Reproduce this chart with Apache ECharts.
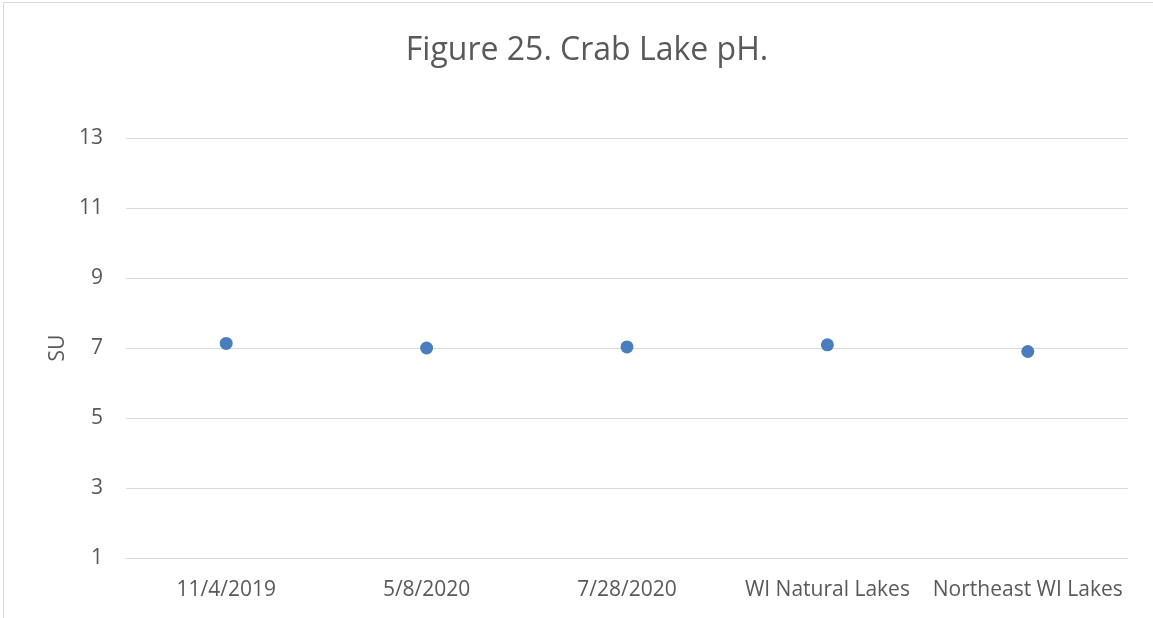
<!DOCTYPE html>
<html>
<head>
<meta charset="utf-8">
<script src="https://cdn.jsdelivr.net/npm/echarts@6/dist/echarts.min.js"></script>
<style>
  html, body { margin: 0; padding: 0; background: #fff; }
  #frame { position: absolute; left: 3px; top: 2px; width: 1160px; height: 630px; border: 1px solid #d9d9d9; box-sizing: border-box; }
  #chart { position: absolute; left: 0; top: 0; width: 1153px; height: 618px; }
</style>
</head>
<body>
<div id="frame"></div>
<div id="chart"></div>
<script>
// Sampling dates and regional reference values
const categories = ['11/4/2019', '5/8/2020', '7/28/2020', 'WI Natural Lakes', 'Northeast WI Lakes'];
const phValues = [7.13, 7.0, 7.03, 7.09, 6.9];
const yTicks = { min: 1, max: 13, interval: 2 };

const FONT = '"Open Sans", sans-serif';
const TEXT = '#595959';

const chart = echarts.init(document.getElementById('chart'), null, { renderer: 'canvas' });
chart.setOption({
  animation: false,
  backgroundColor: 'transparent',
  title: {
    text: 'Figure 25. Crab Lake pH.',
    left: 582,
    textAlign: 'center',
    top: 30,
    textStyle: { fontFamily: FONT, fontSize: 32, fontWeight: 'normal', color: TEXT }
  },
  grid: { left: 126, right: 25, top: 138, bottom: 60 },
  xAxis: {
    type: 'category',
    data: categories,
    boundaryGap: true,
    axisLine: { show: true, lineStyle: { color: '#d9d9d9', width: 1 } },
    axisTick: { show: false },
    axisLabel: { fontFamily: FONT, fontSize: 21, color: TEXT, margin: 22, interval: 0 }
  },
  yAxis: {
    type: 'value',
    min: yTicks.min,
    max: yTicks.max,
    interval: yTicks.interval,
    name: 'SU',
    nameLocation: 'middle',
    nameGap: 53,
    nameRotate: 90,
    nameTextStyle: { fontFamily: FONT, fontSize: 21, color: TEXT },
    axisLine: { show: false },
    axisTick: { show: false },
    splitLine: { lineStyle: { color: '#d9d9d9', width: 1 } },
    axisLabel: { fontFamily: FONT, fontSize: 21, color: TEXT, margin: 23 }
  },
  series: [{
    type: 'scatter',
    data: phValues,
    symbol: 'circle',
    symbolSize: 13,
    itemStyle: { color: '#4a7dbd', opacity: 1 }
  }]
});
</script>
</body>
</html>
